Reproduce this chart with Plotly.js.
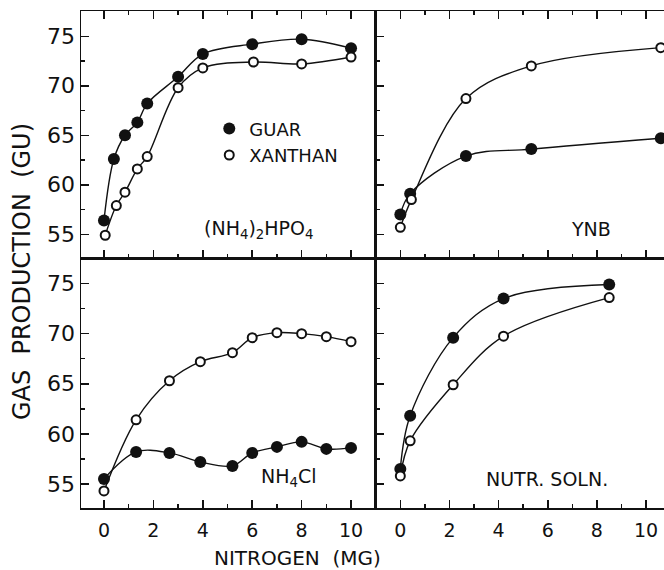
<!DOCTYPE html>
<html>
<head>
<meta charset="utf-8">
<script src="https://cdn.plot.ly/plotly-3.0.1.min.js"></script>
<style>html,body{margin:0;padding:0;background:#fff;overflow:hidden;}</style>
</head>
<body>
<div id="chart" style="width:664px;height:570px;"></div>
<script>
// (NH4)2HPO4 panel
const hpo4GuarX = [0, 0.4, 0.85, 1.35, 1.75, 3, 4, 6, 8, 10];
const hpo4GuarY = [56.4, 62.6, 65.0, 66.3, 68.2, 70.9, 73.2, 74.2, 74.7, 73.8];
const hpo4XanX = [0.05, 0.5, 0.85, 1.35, 1.75, 3, 4, 6.05, 8, 10];
const hpo4XanY = [54.9, 57.9, 59.25, 61.6, 62.85, 69.8, 71.8, 72.4, 72.2, 72.9];
// YNB panel
const ynbGuarX = [0, 0.4, 2.67, 5.33, 10.6];
const ynbGuarY = [57.0, 59.1, 62.9, 63.6, 64.7];
const ynbXanX = [0, 0.45, 2.67, 5.33, 10.6];
const ynbXanY = [55.7, 58.5, 68.7, 72.0, 73.85];
// NH4Cl panel
const clX = [0, 1.3, 2.65, 3.9, 5.2, 6, 7, 8, 9, 10];
const clGuarY = [55.5, 58.2, 58.1, 57.2, 56.8, 58.1, 58.7, 59.2, 58.5, 58.6];
const clXanY = [54.3, 61.4, 65.3, 67.2, 68.1, 69.6, 70.1, 70.0, 69.7, 69.2];
// Nutrient solution panel
const nutX = [0, 0.4, 2.15, 4.2, 8.5];
const nutGuarY = [56.5, 61.8, 69.6, 73.5, 74.9];
const nutXanY = [55.8, 59.3, 64.9, 69.75, 73.6];

const seriesNames = ["GUAR", "XANTHAN"];
const panelLabels = ["(NH<sub>4</sub>)<sub>2</sub>HPO<sub>4</sub>", "YNB", "NH<sub>4</sub>Cl", "NUTR. SOLN."];
const xTickVals = [0, 2, 4, 6, 8, 10];
const yTickVals = [55, 60, 65, 70, 75];
const xTitle = "NITROGEN  (MG)";
const yTitle = "GAS  PRODUCTION  (GU)";

const FONT = "DejaVu Sans, Liberation Sans, Arial, sans-serif";

const panels = [
  {xa: "x", ya: "y", g: [hpo4GuarX, hpo4GuarY], x: [hpo4XanX, hpo4XanY]},
  {xa: "x2", ya: "y2", g: [ynbGuarX, ynbGuarY], x: [ynbXanX, ynbXanY]},
  {xa: "x3", ya: "y3", g: [clX, clGuarY], x: [clX, clXanY]},
  {xa: "x4", ya: "y4", g: [nutX, nutGuarY], x: [nutX, nutXanY]}
];

const traces = [];
panels.forEach(p => {
  [p.g, p.x].forEach(s => {
    traces.push({x: s[0], y: s[1], xaxis: p.xa, yaxis: p.ya, type: "scatter", mode: "lines",
      line: {color: "#111", width: 1.4, shape: "spline", smoothing: 1}, showlegend: false, hoverinfo: "skip"});
  });
});
panels.forEach((p, i) => {
  traces.push({x: p.g[0], y: p.g[1], xaxis: p.xa, yaxis: p.ya, type: "scatter", mode: "markers",
    name: seriesNames[0], legendgroup: "g", showlegend: i === 0,
    marker: {symbol: "circle", size: 12, color: "#111", line: {width: 0}}});
  traces.push({x: p.x[0], y: p.x[1], xaxis: p.xa, yaxis: p.ya, type: "scatter", mode: "markers",
    name: seriesNames[1], legendgroup: "x", showlegend: i === 0,
    marker: {symbol: "circle", size: 9, color: "#fff", line: {width: 2, color: "#111"}}});
});

const yRange = [52.6, 77.55];
const splitX = 0.506, splitY = 0.503;

function xAxis(domain, range, anchor, showLabels, mirror) {
  return {domain: domain, range: range, anchor: anchor, showline: true, linewidth: 1.5, linecolor: "#111",
    mirror: mirror, ticks: "inside", ticklen: 8, tickwidth: 1.5, tickcolor: "#111",
    tickmode: "array", tickvals: xTickVals,
    minor: {dtick: 1, tick0: 0, ticks: "inside", ticklen: 4, tickwidth: 1.5, tickcolor: "#111", showgrid: false},
    showticklabels: showLabels, tickfont: {family: FONT, size: 19, color: "#111"}, ticklabelstandoff: 5,
    showgrid: false, zeroline: false, fixedrange: true};
}
function yAxis(domain, anchor, showLabels, mirror) {
  return {domain: domain, range: yRange, anchor: anchor, showline: true, linewidth: 1.5, linecolor: "#111",
    mirror: mirror, ticks: "inside", ticklen: 8, tickwidth: 1.5, tickcolor: "#111",
    tickmode: "array", tickvals: yTickVals,
    minor: {dtick: 2.5, tick0: 0, ticks: "inside", ticklen: 4, tickwidth: 1.5, tickcolor: "#111", showgrid: false},
    showticklabels: showLabels, tickfont: {family: FONT, size: 22, color: "#111"},
    showgrid: false, zeroline: false, fixedrange: true};
}

const labelFont = {family: FONT, size: 19, color: "#111"};
const layout = {
  width: 664, height: 570,
  margin: {l: 81, r: 0, t: 11, b: 62, pad: 0},
  paper_bgcolor: "#fff", plot_bgcolor: "#fff",
  font: {family: FONT, color: "#111"},
  xaxis: xAxis([0, splitX], [-0.93, 11.01], "y", false, "ticks"),
  yaxis: yAxis([splitY, 1], "x", true, true),
  xaxis2: xAxis([splitX, 1], [-0.99, 10.73], "y2", false, "ticks"),
  yaxis2: yAxis([splitY, 1], "x2", false, false),
  xaxis3: xAxis([0, splitX], [-0.93, 11.01], "y3", true, true),
  yaxis3: yAxis([0, splitY], "x3", true, true),
  xaxis4: xAxis([splitX, 1], [-0.99, 10.73], "y4", true, true),
  yaxis4: yAxis([0, splitY], "x4", false, false),
  showlegend: true,
  legend: {x: 0.22, y: 0.80, xanchor: "left", yanchor: "top", bgcolor: "rgba(0,0,0,0)", borderwidth: 0,
    font: {family: FONT, size: 18, color: "#111"}, tracegroupgap: 0},
  annotations: [
    {text: panelLabels[0], xref: "x", yref: "y", x: 6.25, y: 55.5, showarrow: false, font: labelFont},
    {text: panelLabels[1], xref: "x2", yref: "y2", x: 7.75, y: 55.5, showarrow: false, font: labelFont},
    {text: panelLabels[2], xref: "x3", yref: "y3", x: 7.5, y: 55.6, showarrow: false, font: labelFont},
    {text: panelLabels[3], xref: "x4", yref: "y4", x: 5.95, y: 55.5, showarrow: false, font: labelFont},
    {text: xTitle, xref: "paper", yref: "paper", x: 0.3705, y: -0.101, xanchor: "center", yanchor: "middle",
      showarrow: false, font: {family: FONT, size: 20, color: "#111"}},
    {text: yTitle, xref: "paper", yref: "paper", x: -0.101, y: 0.475, xanchor: "center", yanchor: "middle",
      textangle: -90, showarrow: false, font: {family: FONT, size: 24, color: "#111"}}
  ]
};

Plotly.newPlot("chart", traces, layout, {displayModeBar: false, staticPlot: true});
</script>
</body>
</html>
